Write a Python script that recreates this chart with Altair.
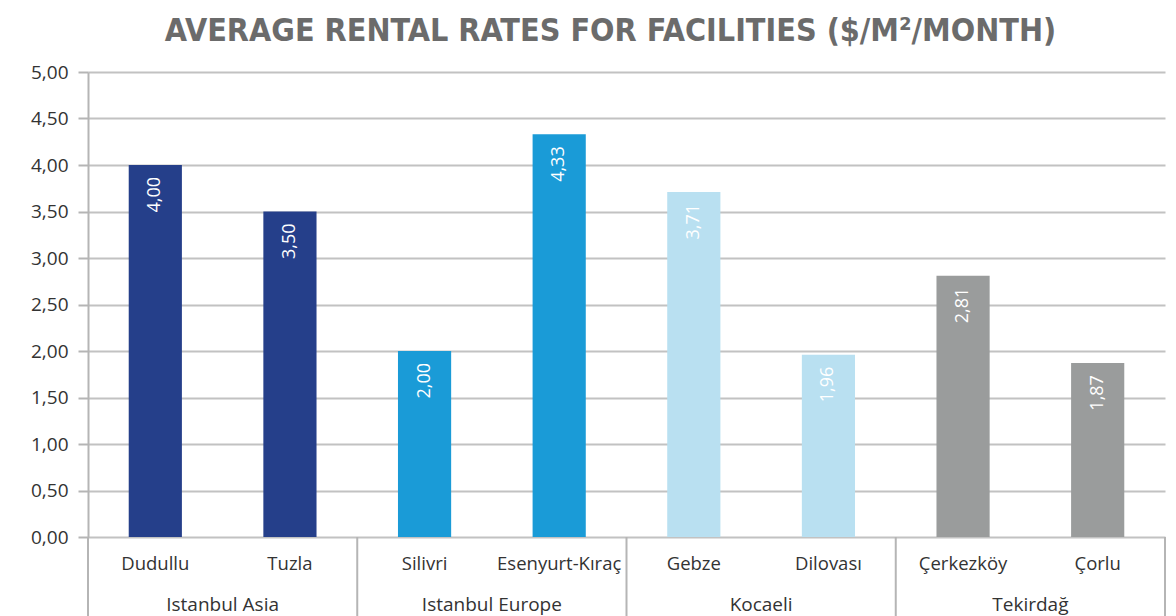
import altair as alt
import pandas as pd

categories = ["Dudullu", "Tuzla", "Silivri", "Esenyurt-Kıraç", "Gebze", "Dilovası", "Çerkezköy", "Çorlu"]
groups = ["Istanbul Asia", "Istanbul Asia", "Istanbul Europe", "Istanbul Europe",
          "Kocaeli", "Kocaeli", "Tekirdağ", "Tekirdağ"]
values = [4.00, 3.50, 2.00, 4.33, 3.71, 1.96, 2.81, 1.87]
group_names = ["Istanbul Asia", "Istanbul Europe", "Kocaeli", "Tekirdağ"]
group_colors = ["#253f8a", "#1a9bd7", "#b9e0f1", "#9a9c9c"]
y_ticks = [0, 0.5, 1, 1.5, 2, 2.5, 3, 3.5, 4, 4.5, 5]

W, H = 1077, 465
FONT = "Open Sans"

df = pd.DataFrame({"category": categories, "group": groups, "value": values})

grp_rows = []
for g in group_names:
    members = [c for c, gg in zip(categories, groups) if gg == g]
    grp_rows.append({"group": g, "first": members[0], "second": members[1]})
gdf = pd.DataFrame(grp_rows)
edge_df = pd.DataFrame({"category": [categories[-1]]})

xscale = alt.Scale(domain=categories, paddingInner=0, paddingOuter=0)
yscale = alt.Scale(domain=[0, 5])

base = alt.Chart(df)

bars = base.mark_bar(width=alt.RelativeBandSize(0.395)).encode(
    x=alt.X("category:N", scale=xscale, sort=categories, title=None,
            axis=alt.Axis(labelAngle=0, labelFontSize=18.5, labelFont=FONT, labelColor="#333333",
                          ticks=False, domain=False, labelPadding=17, grid=False)),
    y=alt.Y("value:Q", scale=yscale, title=None,
            axis=alt.Axis(values=y_ticks,
                          labelExpr="replace(format(datum.value, '.2f'), '.', ',')",
                          labelFontSize=19, labelFont=FONT, labelColor="#333333",
                          labelPadding=10, tickSize=10, tickColor="#b5b5b5", tickWidth=2,
                          domainColor="#b5b5b5", domainWidth=2,
                          gridColor="#c2c2c2", gridWidth=2)),
    color=alt.Color("group:N", scale=alt.Scale(domain=group_names, range=group_colors), legend=None),
)

labels = base.transform_calculate(
    lbl="replace(format(datum.value, '.2f'), '.', ',')"
).mark_text(angle=270, align="right", baseline="middle", dx=-12, color="white",
            fontSize=18, font=FONT).encode(
    x=alt.X("category:N", scale=xscale, sort=categories),
    y=alt.Y("value:Q", scale=yscale),
    text="lbl:N",
)

sep = alt.Chart(gdf).mark_rule(color="#b5b5b5", strokeWidth=2).encode(
    x=alt.X("first:N", scale=xscale, sort=categories, bandPosition=0),
    y=alt.value(H),
    y2=alt.value(H + 90),
)
sep_end = alt.Chart(edge_df).mark_rule(color="#b5b5b5", strokeWidth=2).encode(
    x=alt.X("category:N", scale=xscale, sort=categories, bandPosition=1),
    y=alt.value(H),
    y2=alt.value(H + 90),
)

grp_text = alt.Chart(gdf).mark_text(fontSize=19, font=FONT, color="#333333", baseline="middle").encode(
    x=alt.X("second:N", scale=xscale, sort=categories, bandPosition=0),
    y=alt.value(H + 68),
    text="group:N",
)

chart = alt.layer(bars, labels, sep, sep_end, grp_text).properties(
    width=W, height=H,
    autosize=alt.AutoSizeParams(type="none"),
    padding={"left": 80, "top": 64, "right": 3, "bottom": 79},
    title=alt.TitleParams(
        "AVERAGE RENTAL RATES FOR FACILITIES ($/M²/MONTH)",
        font="DejaVu Sans Condensed", fontSize=32, fontWeight="bold", color="#6b6b6b",
        anchor="middle", dx=-16, offset=15,
    ),
).configure_view(stroke=None)

chart.save("out.html", embed_options={"renderer": "svg", "actions": False})
